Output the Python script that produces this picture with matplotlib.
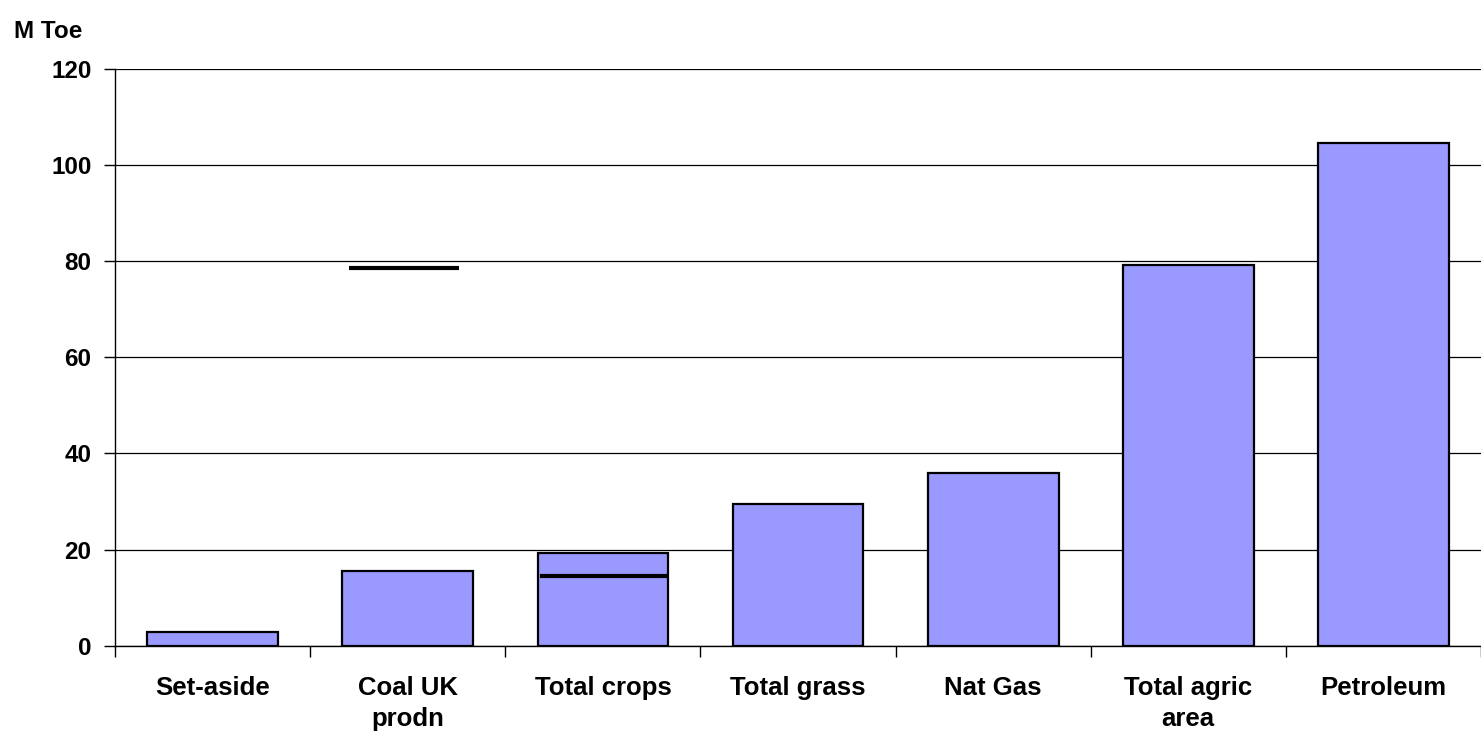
import numpy as np
import matplotlib.pyplot as plt

plt.rcParams['font.family'] = ['Liberation Sans', 'DejaVu Sans']
plt.rcParams['font.weight'] = 'bold'

# Values (M Toe)
categories = ['Set-aside', 'Coal UK\nprodn', 'Total crops', 'Total grass',
              'Nat Gas', 'Total agric\narea', 'Petroleum']
values = [2.85, 15.5, 19.2, 29.5, 36.0, 79.15, 104.6]
# short black markers on two of the categories
marker_idx = [1, 2]
marker_vals = [78.6, 14.4]

fig = plt.figure(figsize=(14.81, 7.34), dpi=100)
ax = fig.add_axes([0.0777, 0.1203, 0.9223, 0.7857])

x = np.arange(len(categories))
ax.bar(x, values, width=0.67, color='#9999FF', edgecolor='black',
       linewidth=1.6, zorder=3)
mx = np.array(marker_idx)
ax.hlines(marker_vals, mx - np.array([0.30, 0.32]), mx + np.array([0.26, 0.34]),
          color='black', linewidth=3, zorder=4)

ax.set_xlim(-0.5, len(categories) - 0.5)
ax.set_ylim(0, 120)
ax.set_yticks(np.arange(0, 121, 20))
ax.yaxis.grid(True, color='black', linewidth=0.9, zorder=0)

# ticks on the category boundaries, labels centred under the bars
ax.set_xticks(np.arange(-0.5, len(categories), 1.0))
ax.set_xticklabels([])
ax.set_xticks(x, minor=True)
ax.set_xticklabels(categories, minor=True, fontsize=18.5, fontweight='bold',
                   linespacing=1.35)
ax.tick_params(axis='x', which='minor', length=0, pad=22)
ax.tick_params(axis='x', which='major', length=8, width=1, direction='out')
ax.tick_params(axis='y', length=8, width=1, direction='out', pad=9,
               labelsize=17.5)

for s in ['top', 'right']:
    ax.spines[s].set_visible(False)
ax.spines['left'].set_linewidth(1)
ax.spines['bottom'].set_linewidth(1)

fig.text(14 / 1481, 1 - 32 / 734, 'M Toe', fontsize=17.5, fontweight='bold',
         va='center', ha='left')

fig.savefig('out.png', dpi=100)
